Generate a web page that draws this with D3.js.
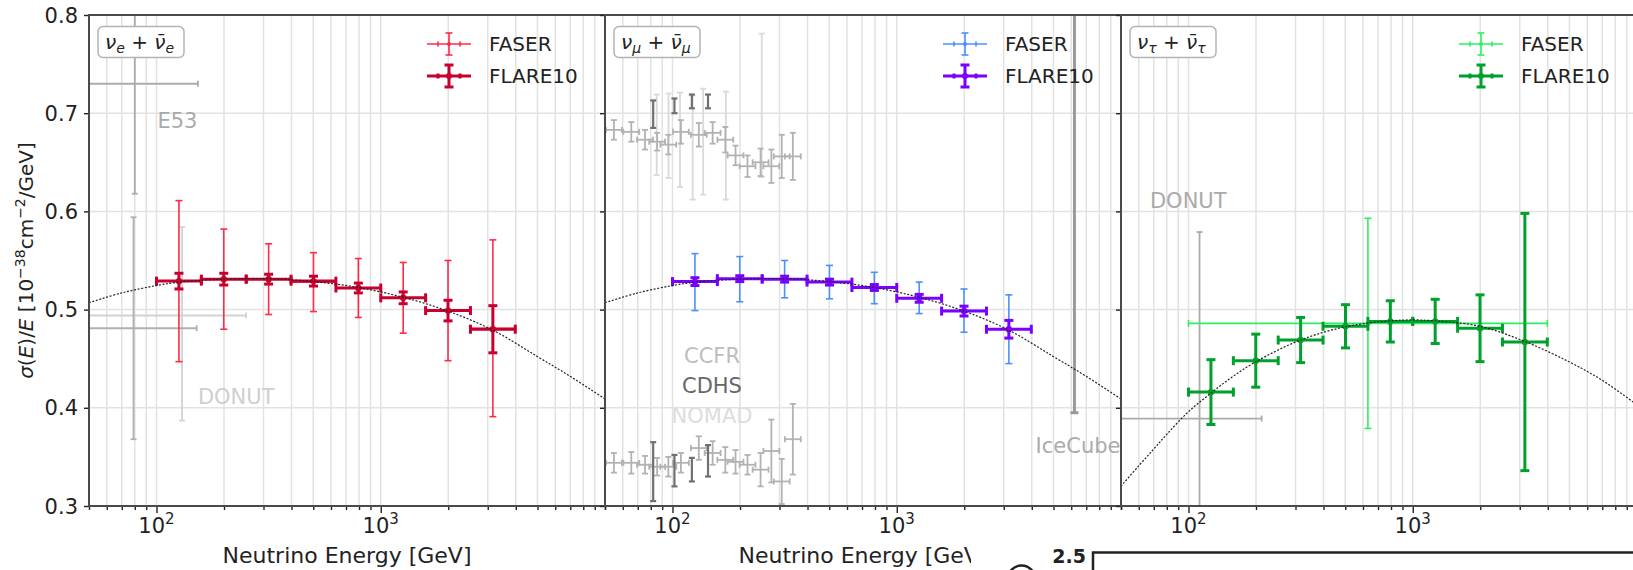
<!DOCTYPE html>
<html>
<head>
<meta charset="utf-8">
<script src="https://cdn.jsdelivr.net/npm/d3@7/dist/d3.min.js"></script>
<style>
  html, body { margin: 0; padding: 0; background: #fff; }
  svg { display: block; font-family: "DejaVu Sans", sans-serif; }
</style>
</head>
<body>
<svg id="fig" width="1633" height="570"></svg>
<script>
// ---------------- data ----------------
// energy bins (GeV) used for the FASER / FLARE10 projections
const binEdges   = [100, 158.5, 251.2, 398.1, 631.0, 1000, 1585, 2512, 3981];
const binCenters = [125.9, 199.5, 316.2, 501.2, 794.3, 1259, 1995, 3162];

// electron neutrinos: sigma/E in 1e-38 cm^2/GeV
const nueFaser    = [0.529, 0.531, 0.531, 0.528, 0.522, 0.512, 0.499, 0.481];
const nueFaserErr = [0.082, 0.051, 0.036, 0.030, 0.030, 0.036, 0.051, 0.090];
const nueFlare    = [0.529, 0.531, 0.531, 0.529, 0.522, 0.512, 0.499, 0.480];
const nueFlareErr = [0.008, 0.006, 0.005, 0.005, 0.005, 0.006, 0.0105, 0.024];

// muon neutrinos
const numuFaser    = [0.528, 0.531, 0.531, 0.528, 0.522, 0.512, 0.499, 0.480];
const numuFaserErr = [0.029, 0.023, 0.019, 0.017, 0.016, 0.016, 0.022, 0.035];
const numuFlare    = [0.5285, 0.5315, 0.531, 0.528, 0.5225, 0.5115, 0.4985, 0.480];
const numuFlareErr = [0.004, 0.003, 0.003, 0.003, 0.003, 0.004, 0.005, 0.009];

// tau neutrinos (FASER: one wide bin)
const nutauFaserE     = [631];
const nutauFaserEdges = [100, 3981];
const nutauFaser      = [0.486];
const nutauFaserErr   = [0.107];
const nutauFlare      = [0.416, 0.448, 0.469, 0.483, 0.488, 0.488, 0.481, 0.467];
const nutauFlareErr   = [0.033, 0.027, 0.023, 0.022, 0.021, 0.0225, 0.034, 0.131];

// SM predictions
const theoryE     = [50, 70, 100, 126, 200, 316, 501, 794, 1259, 1995, 3162, 5012, 7000, 10000];
const theoryNuEMu = [0.507, 0.517, 0.5245, 0.528, 0.531, 0.5315, 0.5285, 0.5225, 0.5125, 0.4985, 0.479, 0.452, 0.432, 0.409];
const theoryTauE  = [50, 60, 70, 80, 100, 126, 158, 200, 316, 501, 794, 1000, 1259, 1995, 3162, 5012, 7000, 10000];
const theoryNuTau = [0.320, 0.341, 0.358, 0.373, 0.396, 0.415, 0.432, 0.447, 0.469, 0.4825, 0.4885, 0.4895, 0.4885, 0.483, 0.4675, 0.4465, 0.428, 0.403];

// existing measurements, nu_e
const e53E = [80],   e53Lo = [30],  e53Hi = [153], e53 = [0.730], e53Err = [0.112];
const donutNueE = [79, 130], donutNueLo = [20, 10], donutNueHi = [151, 251];
const donutNue = [0.481, 0.494], donutNueErrLo = [0.113, 0.107], donutNueErrHi = [0.113, 0.090];

// existing measurements, nu_mu (upper: neutrino, lower: antineutrino)
const ccfrE        = [54.8, 65.5, 75.4, 85.4, 95.8, 109, 131, 151, 172, 191, 216, 247, 276, 307, 344];
const ccfrNu       = [0.683, 0.681, 0.673, 0.671, 0.668, 0.681, 0.678, 0.680, 0.673, 0.657, 0.646, 0.650, 0.646, 0.656, 0.656];
const ccfrNuErr    = [0.010, 0.010, 0.010, 0.009, 0.010, 0.012, 0.012, 0.011, 0.013, 0.010, 0.011, 0.014, 0.017, 0.022, 0.024];
const ccfrNubar    = [0.344, 0.344, 0.342, 0.340, 0.340, 0.344, 0.359, 0.354, 0.347, 0.345, 0.342, 0.337, 0.356, 0.325, 0.368];
const ccfrNubarErr = [0.010, 0.011, 0.009, 0.009, 0.010, 0.010, 0.012, 0.012, 0.013, 0.012, 0.010, 0.017, 0.032, 0.023, 0.036];
const cdhsE        = [82, 102, 122, 144];
const cdhsNu       = [0.699, 0.7075, 0.712, 0.712];
const cdhsNuErr    = [0.014, 0.0075, 0.007, 0.007];
const cdhsNubar    = [0.335, 0.336, 0.337, 0.346];
const cdhsNubarErr = [0.030, 0.016, 0.012, 0.016];
const nomadE       = [85, 96, 108, 123, 137, 173, 250];
const nomadNu      = [0.678, 0.677, 0.673, 0.665, 0.671, 0.667, 0.708];
const nomadNuErr   = [0.041, 0.043, 0.048, 0.053, 0.054, 0.055, 0.073];
const iceCubeE = [6200], iceCube = [0.710], iceCubeErr = [0.315];

// existing measurements, nu_tau
const donutTauE = [112], donutTauLo = [20], donutTauHi = [212], donutTau = [0.389], donutTauErr = [0.19];

// axis ticks
const yTicks = [0.3, 0.4, 0.5, 0.6, 0.7, 0.8];
const yTickLabels = ["0.3", "0.4", "0.5", "0.6", "0.7", "0.8"];
const xMajor = [100, 1000];
const xMajorExp = ["2", "3"];

// ---------------- layout ----------------
const svg = d3.select("#fig");
const TOP = 15, BOTTOM = 506;
const panelX = [89, 605, 1121];
const PW = 516, PH = BOTTOM - TOP;

const x = d3.scaleLog().domain([50, 10000]).range([0, PW]);
const y = d3.scaleLinear().domain([0.3, 0.8]).range([PH, 0]);
const gridE = x.ticks();

const ACCEL_XF = 1.085;   // half-width factor of the accelerator energy bins
const TICK_FS = 21, LABEL_FS = 22, NOTE_FS = 21, LEGEND_FS = 20;

const zip = (E, V, errLo, errHi, lo, hi) => E.map((e, i) => ({
  e, v: V[i], lo: errLo[i], hi: (errHi || errLo)[i],
  eLo: lo ? lo[i] : null, eHi: hi ? hi[i] : null
}));

const binRows = (V, err) => zip(binCenters, V, err, err, binEdges.slice(0, -1), binEdges.slice(1));
const accelRows = (E, V, err) => zip(E, V, err, err, E.map(e => e / ACCEL_XF), E.map(e => e * ACCEL_XF));

// generic error-bar drawer
function errorbars(g, rows, o) {
  const grp = g.append("g")
    .attr("stroke", o.color).attr("fill", o.color)
    .attr("stroke-width", o.lw).attr("stroke-linecap", "butt");
  const sel = grp.selectAll("g").data(rows).join("g");
  sel.filter(d => d.eLo != null).append("line")
    .attr("x1", d => x(d.eLo)).attr("x2", d => x(d.eHi))
    .attr("y1", d => y(d.v)).attr("y2", d => y(d.v));
  if (o.xcap) {
    sel.filter(d => d.eLo != null).each(function (d) {
      [d.eLo, d.eHi].forEach(ee => d3.select(this).append("line")
        .attr("x1", x(ee)).attr("x2", x(ee))
        .attr("y1", y(d.v) - o.cap).attr("y2", y(d.v) + o.cap));
    });
  }
  sel.append("line")
    .attr("x1", d => x(d.e)).attr("x2", d => x(d.e))
    .attr("y1", d => y(d.v - d.lo)).attr("y2", d => y(d.v + d.hi));
  sel.each(function (d) {
    [d.v - d.lo, d.v + d.hi].forEach(vv => d3.select(this).append("line")
      .attr("x1", x(d.e) - o.cap).attr("x2", x(d.e) + o.cap)
      .attr("y1", y(vv)).attr("y2", y(vv)));
  });
  if (o.r) sel.append("circle").attr("cx", d => x(d.e)).attr("cy", d => y(d.v)).attr("r", o.r).attr("stroke", "none");
}

const faserStyle = c => ({ color: c, lw: 1.6, cap: 3.5, xcap: true, r: 2 });
const flareStyle = c => ({ color: c, lw: 3, cap: 4.5, xcap: true, r: 3.2 });
const refStyle   = c => ({ color: c, lw: 1.8, cap: 3, xcap: true, r: 0 });

const panels = [
  { sub: "e", faserColor: "#ff2a48", flareColor: "#c8002e",
    faser: binRows(nueFaser, nueFaserErr), flare: binRows(nueFlare, nueFlareErr),
    theoryE, theory: theoryNuEMu },
  { sub: "μ", faserColor: "#4a90ff", flareColor: "#7a00ff",
    faser: binRows(numuFaser, numuFaserErr), flare: binRows(numuFlare, numuFlareErr),
    theoryE, theory: theoryNuEMu },
  { sub: "τ", faserColor: "#2cf060", flareColor: "#00a02c",
    faser: zip(nutauFaserE, nutauFaser, nutauFaserErr, nutauFaserErr, [nutauFaserEdges[0]], [nutauFaserEdges[1]]),
    flare: binRows(nutauFlare, nutauFlareErr),
    theoryE: theoryTauE, theory: theoryNuTau }
];

panels.forEach((p, i) => {
  const g = svg.append("g").attr("transform", `translate(${panelX[i]},${TOP})`);
  const clipId = "clip" + i;
  svg.append("clipPath").attr("id", clipId).append("rect").attr("width", PW).attr("height", PH);

  // grid
  const grid = g.append("g").attr("stroke", "#e2e2e2").attr("stroke-width", 1.5);
  grid.selectAll(".gx").data(gridE).join("line")
    .attr("x1", d => x(d)).attr("x2", d => x(d)).attr("y1", 0).attr("y2", PH);
  grid.selectAll(".gy").data(yTicks).join("line")
    .attr("x1", 0).attr("x2", PW).attr("y1", d => y(d)).attr("y2", d => y(d));

  const data = g.append("g").attr("clip-path", `url(#${clipId})`);

  // reference measurements
  if (i === 0) {
    errorbars(data, zip(e53E, e53, e53Err, e53Err, e53Lo, e53Hi), refStyle("#ababab"));
    errorbars(data, zip([donutNueE[1]], [donutNue[1]], [donutNueErrLo[1]], [donutNueErrHi[1]], [donutNueLo[1]], [donutNueHi[1]]), refStyle("#d2d2d2"));
    errorbars(data, zip([donutNueE[0]], [donutNue[0]], [donutNueErrLo[0]], [donutNueErrHi[0]], [donutNueLo[0]], [donutNueHi[0]]), refStyle("#b0b0b0"));
    data.append("text").attr("x", x(101)).attr("y", y(0.685)).attr("font-size", NOTE_FS).attr("fill", "#aaaaaa").text("E53");
    data.append("text").attr("x", x(153)).attr("y", y(0.404)).attr("font-size", NOTE_FS).attr("fill", "#cfcfcf").text("DONUT");
  }
  if (i === 1) {
    const nomadRows = nomadE.map((e, k) => ({ e, v: nomadNu[k], lo: nomadNuErr[k], hi: nomadNuErr[k], eLo: null, eHi: null }));
    errorbars(data, nomadRows, { color: "#d9d9d9", lw: 1.8, cap: 3, r: 0 });
    errorbars(data, accelRows(ccfrE, ccfrNu, ccfrNuErr), refStyle("#b2b2b2"));
    errorbars(data, accelRows(ccfrE, ccfrNubar, ccfrNubarErr), refStyle("#b2b2b2"));
    const cdhsRows = cdhsE.map((e, k) => ({ e, v: cdhsNu[k], lo: cdhsNuErr[k], hi: cdhsNuErr[k], eLo: null, eHi: null }))
      .concat(cdhsE.map((e, k) => ({ e, v: cdhsNubar[k], lo: cdhsNubarErr[k], hi: cdhsNubarErr[k], eLo: null, eHi: null })));
    errorbars(data, cdhsRows, { color: "#707070", lw: 2.2, cap: 3, r: 0 });
    errorbars(data, iceCubeE.map((e, k) => ({ e, v: iceCube[k], lo: iceCubeErr[k], hi: iceCubeErr[k], eLo: null, eHi: null })),
      { color: "#9a9a9a", lw: 3, cap: 4, r: 0 });
    data.append("text").attr("x", x(150)).attr("y", y(0.4456)).attr("text-anchor", "middle").attr("font-size", NOTE_FS).attr("fill", "#bdbdbd").text("CCFR");
    data.append("text").attr("x", x(150)).attr("y", y(0.4151)).attr("text-anchor", "middle").attr("font-size", NOTE_FS).attr("fill", "#676767").text("CDHS");
    data.append("text").attr("x", x(150)).attr("y", y(0.3845)).attr("text-anchor", "middle").attr("font-size", NOTE_FS).attr("fill", "#dddddd").text("NOMAD");
    data.append("text").attr("x", x(9950)).attr("y", y(0.354)).attr("text-anchor", "end").attr("font-size", NOTE_FS).attr("fill", "#ababab").text("IceCube");
  }
  if (i === 2) {
    errorbars(data, zip(donutTauE, donutTau, donutTauErr, donutTauErr, donutTauLo, donutTauHi), refStyle("#ababab"));
    data.append("text").attr("x", x(67.3)).attr("y", y(0.6035)).attr("font-size", NOTE_FS).attr("fill", "#aaaaaa").text("DONUT");
  }

  // projections
  errorbars(data, p.faser, faserStyle(p.faserColor));
  errorbars(data, p.flare, flareStyle(p.flareColor));

  // prediction
  const line = d3.line().x((d, k) => x(p.theoryE[k])).y(d => y(d)).curve(d3.curveCatmullRom);
  data.append("path").datum(p.theory).attr("d", line)
    .attr("fill", "none").attr("stroke", "#222").attr("stroke-width", 1.2).attr("stroke-dasharray", "2,1.6");

  // axes
  const xMinor = d3.axisBottom(x).tickValues(gridE.filter(v => !xMajor.includes(v))).tickSize(4).tickFormat("");
  const xMaj = d3.axisBottom(x).tickValues(xMajor).tickSize(7).tickFormat("");
  [xMinor, xMaj].forEach(ax => {
    const a = g.append("g").attr("transform", `translate(0,${PH})`).call(ax);
    a.select(".domain").remove();
    a.selectAll("line").attr("stroke", "#222").attr("stroke-width", 1.4);
  });
  const yAx = d3.axisLeft(y).tickValues(yTicks).tickSize(5).tickFormat("");
  const ya = g.append("g").call(yAx);
  ya.select(".domain").remove();
  ya.selectAll("line").attr("stroke", "#222").attr("stroke-width", 1.4);

  // x tick labels (10^n)
  xMajor.forEach((v, k) => {
    const t = g.append("text").attr("x", x(v)).attr("y", PH + 27).attr("text-anchor", "middle")
      .attr("font-size", TICK_FS).attr("fill", "#222");
    t.append("tspan").text("10");
    t.append("tspan").attr("font-size", 15).attr("dy", -9).text(xMajorExp[k]);
  });
  if (i === 0) {
    g.selectAll(".yl").data(yTicks).join("text")
      .attr("x", -11).attr("y", d => y(d)).attr("dy", "0.36em").attr("text-anchor", "end")
      .attr("font-size", TICK_FS).attr("fill", "#222").text((d, k) => yTickLabels[k]);
  }
  g.append("text").attr("x", PW / 2).attr("y", PH + 57).attr("text-anchor", "middle")
    .attr("font-size", LABEL_FS).attr("fill", "#222").text("Neutrino Energy [GeV]");

  // frame
  g.append("rect").attr("width", PW).attr("height", PH).attr("fill", "none")
    .attr("stroke", "#4a4a4a").attr("stroke-width", 2);

  // flavour tag
  const tag = g.append("g").attr("transform", "translate(9,11.5)");
  tag.append("rect").attr("width", 86).attr("height", 31).attr("rx", 5)
    .attr("fill", "#fff").attr("stroke", "#b4b4b4").attr("stroke-width", 1.5);
  const tt = tag.append("text").attr("x", 7).attr("y", 22).attr("font-size", 20).attr("fill", "#222");
  tt.append("tspan").attr("font-style", "italic").text("ν");
  tt.append("tspan").attr("font-size", 14).attr("font-style", "italic").attr("dy", 4).text(p.sub);
  tt.append("tspan").attr("dy", -4).text(" + ");
  tt.append("tspan").attr("font-style", "italic").text("ν\u0304");
  tt.append("tspan").attr("font-size", 14).attr("font-style", "italic").attr("dy", 4).text(p.sub);

  // legend
  const legendItems = [
    { name: "FASER", color: p.faserColor, lw: 1.6, cap: 3.5, r: 2, yy: 29 },
    { name: "FLARE10", color: p.flareColor, lw: 3, cap: 4.5, r: 3, yy: 61 }
  ];
  const lg = g.append("g").attr("transform", "translate(360,0)");
  legendItems.forEach(it => {
    const s = lg.append("g").attr("stroke", it.color).attr("fill", it.color).attr("stroke-width", it.lw);
    s.append("line").attr("x1", -22).attr("x2", 22).attr("y1", it.yy).attr("y2", it.yy);
    [-11, 11].forEach(dx => s.append("line").attr("x1", dx).attr("x2", dx).attr("y1", it.yy - 2.5).attr("y2", it.yy + 2.5));
    s.append("line").attr("x1", 0).attr("x2", 0).attr("y1", it.yy - 11).attr("y2", it.yy + 11);
    [-11, 11].forEach(dy => s.append("line").attr("x1", -it.cap).attr("x2", it.cap).attr("y1", it.yy + dy).attr("y2", it.yy + dy));
    s.append("circle").attr("cx", 0).attr("cy", it.yy).attr("r", it.r).attr("stroke", "none");
    lg.append("text").attr("x", 40).attr("y", it.yy).attr("dy", "0.36em").attr("font-size", LEGEND_FS).attr("fill", "#222").text(it.name);
  });
});

// y label
const yl = svg.append("text").attr("transform", `translate(33,${TOP + PH / 2}) rotate(-90)`)
  .attr("text-anchor", "middle").attr("font-size", 20).attr("fill", "#222");
yl.append("tspan").attr("font-style", "italic").text("σ");
yl.append("tspan").text("(");
yl.append("tspan").attr("font-style", "italic").text("E");
yl.append("tspan").text(")/");
yl.append("tspan").attr("font-style", "italic").text("E");
yl.append("tspan").text(" [10");
yl.append("tspan").attr("font-size", 14).attr("dy", -8).text("−38");
yl.append("tspan").attr("dy", 8).text("cm");
yl.append("tspan").attr("font-size", 14).attr("dy", -8).text("−2");
yl.append("tspan").attr("dy", 8).text("/GeV]");

// neighbouring figure overlapping the lower right corner
const nb = svg.append("g");
nb.append("rect").attr("x", 971).attr("y", 538).attr("width", 1633 - 971).attr("height", 32).attr("fill", "#fff");
nb.append("text").attr("x", 1086).attr("y", 563).attr("text-anchor", "end").attr("font-size", 19)
  .attr("font-weight", "bold").attr("fill", "#222").text("2.5");
nb.append("circle").attr("cx", 1021.5).attr("cy", 579).attr("r", 13.5).attr("fill", "none")
  .attr("stroke", "#222").attr("stroke-width", 2.5);
nb.append("path").attr("d", "M1093,570V552.5H1633").attr("fill", "none").attr("stroke", "#222").attr("stroke-width", 2.5);
</script>
</body>
</html>
